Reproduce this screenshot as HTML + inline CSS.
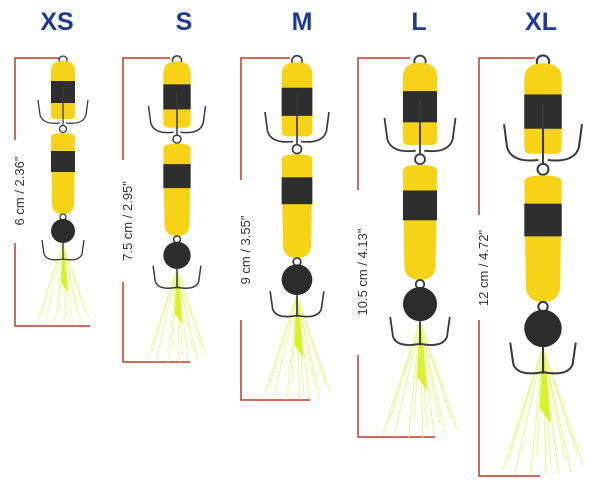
<!DOCTYPE html>
<html><head><meta charset="utf-8"><style>
html,body{margin:0;padding:0;background:#fff;}
svg{display:block}
.t{font-family:"Liberation Sans",sans-serif;font-weight:bold;font-size:25px;fill:#1f3a94;text-anchor:middle}
.m{font-family:"Liberation Sans",sans-serif;font-size:13px;fill:#333;text-anchor:middle}
.r{stroke:#c0392b;stroke-width:1.5;fill:none}
.h{stroke:#3a3a3a;stroke-width:1.3;fill:none}
.tas{stroke:#e2f25a;stroke-width:0.7;fill:none;opacity:.7}
</style></head><body>
<svg width="600" height="486" viewBox="0 0 600 486" xmlns="http://www.w3.org/2000/svg">
<defs>
<g id="lure">
  <g class="tas">
    <path d="M0,186 L-26,265 M0,186 L-18,267 M0,186 L-8,268 M0,186 L2,268 M0,186 L10,267 M0,186 L18,266 M0,186 L26,262 M0,186 L-22,258 M0,186 L22,255 M0,186 L5,262 M0,186 L-4,255 M0,186 L14,258"/>
  </g>
  <path d="M0,186 L-2,225 L5,235 L2,200 Z" fill="#d8f030"/>
  <path class="h" d="M-21,183 L-19,197 Q-16,205 0,202 Q16,205 19,197 L21,183 M0,186 L0,203"/>
  <circle class="h" cx="0" cy="3" r="4"/>
  <path d="M-12,14 Q-12,4 0,4 Q12,4 12,14 L12,58 Q12,62 8,62 L-8,62 Q-12,62 -12,58 Z" fill="#f6d317"/>
  <rect x="-12" y="24" width="24" height="22" fill="#2e2e2e"/>
  <path class="h" d="M-25,43 L-23,58 Q-20,68 -3,66 M25,43 L23,58 Q20,68 3,66 M0,30 L0,68"/>
  <circle class="h" cx="0" cy="72" r="3.5"/>
  <path d="M-12,80 Q-12,76 0,76 Q12,76 12,80 L11,148 Q10,157 0,157 Q-10,157 -11,148 Z" fill="#f6d317"/>
  <rect x="-12" y="94" width="24" height="21" fill="#2e2e2e"/>
  <circle class="h" cx="0" cy="160" r="3"/>
  <circle cx="0" cy="174" r="12" fill="#2c2c2c"/>
</g>
</defs>
<text class="t" x="57" y="30">XS</text>
<text class="t" x="184" y="30">S</text>
<text class="t" x="302" y="30">M</text>
<text class="t" x="419" y="30">L</text>
<text class="t" x="541" y="30">XL</text>

<path class="r" d="M60,58 L15,58 L15,140 M15,243 L15,326 L90,326"/>
<text class="m" transform="translate(24,191) rotate(-90)">6 cm / 2.36"</text>
<path class="r" d="M170,58 L123,58 L123,160 M123,282 L123,362 L190,362"/>
<text class="m" transform="translate(132,221) rotate(-90)">7.5 cm / 2.95"</text>
<path class="r" d="M290,58 L241,58 L241,180 M241,320 L241,400 L310,400"/>
<text class="m" transform="translate(250,250) rotate(-90)">9 cm / 3.55"</text>
<path class="r" d="M410,58 L358,58 L358,190 M358,355 L358,437 L435,437"/>
<text class="m" transform="translate(367,272) rotate(-90)">10.5 cm / 4.13"</text>
<path class="r" d="M535,58 L479,58 L479,215 M479,320 L479,476 L540,476"/>
<text class="m" transform="translate(488,268) rotate(-90)">12 cm / 4.72"</text>

<use href="#lure" transform="translate(63,57) scale(1)"/>
<use href="#lure" transform="translate(177,57) scale(1.14)"/>
<use href="#lure" transform="translate(297,57) scale(1.28)"/>
<use href="#lure" transform="translate(420,57) scale(1.42)"/>
<use href="#lure" transform="translate(543,57) scale(1.56)"/>
</svg>
</body></html>
